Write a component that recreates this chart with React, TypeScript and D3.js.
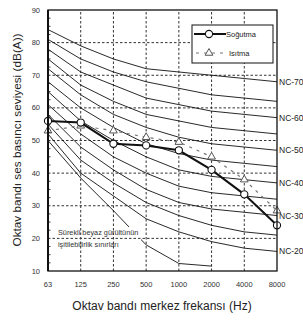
import { useEffect, useRef } from 'react';
import * as d3 from 'd3';

const bands = ['63', '125', '250', '500', '1000', '2000', '4000', '8000'];
const yTicks = [10, 20, 30, 40, 50, 60, 70, 80, 90];

// NC curves, dB per octave band
const nc70 = [84, 79, 75, 72, 71, 70, 69, 68];
const nc65 = [81, 75, 71, 68, 66, 64, 63, 62];
const nc60 = [78, 71, 67, 63, 61, 59, 58, 57];
const nc55 = [75, 67, 62, 58, 56, 54, 53, 52];
const nc50 = [72, 64, 58, 54, 51, 49, 48, 47];
const nc45 = [68, 60, 54, 49, 46, 44, 43, 42];
const nc40 = [65, 56, 50, 45, 41, 39, 38, 37];
const nc35 = [61, 52, 45, 40, 36, 34, 33, 32];
const nc30 = [58, 48, 41, 35, 31, 29, 28, 27];
const nc25 = [55, 44, 37, 31, 27, 24, 22, 21];
const nc20 = [52, 40, 33, 26, 22, 19, 17, 16];

// audibility threshold of continuous white noise (63..2000)
const threshold = [50, 38.5, 28.5, 18, 12.3, 11.5];

const sogutma = [56, 55.5, 49, 48.5, 47, 41, 33.5, 24];
const isitma = [53, 54.5, 53, 51, 49.5, 45, 38, 28.5];

const ncCurves = [
  { name: 'NC-70', values: nc70, label: true },
  { name: 'NC-65', values: nc65, label: false },
  { name: 'NC-60', values: nc60, label: true },
  { name: 'NC-55', values: nc55, label: false },
  { name: 'NC-50', values: nc50, label: true },
  { name: 'NC-45', values: nc45, label: false },
  { name: 'NC-40', values: nc40, label: true },
  { name: 'NC-35', values: nc35, label: false },
  { name: 'NC-30', values: nc30, label: true },
  { name: 'NC-25', values: nc25, label: false },
  { name: 'NC-20', values: nc20, label: true },
];

const FONT = 'Liberation Sans, Arial, sans-serif';

export default function App() {
  const svgRef = useRef<SVGSVGElement>(null);

  useEffect(() => {
    const svg = d3.select(svgRef.current);
    svg.selectAll('*').remove();

    const margin = { top: 10, right: 26, bottom: 49, left: 48 };
    const width = 303;
    const height = 320;

    const x = d3.scalePoint<string>()
      .domain(bands)
      .range([margin.left, width - margin.right]);

    const y = d3.scaleLinear()
      .domain([10, 90])
      .range([height - margin.bottom, margin.top]);

    const line = d3.line<number>()
      .x((d, i) => x(bands[i])!)
      .y(d => y(d));

    const defs = svg.append('defs');
    defs.append('clipPath').attr('id', 'plotclip')
      .append('rect')
      .attr('x', margin.left).attr('y', margin.top)
      .attr('width', width - margin.right - margin.left)
      .attr('height', height - margin.bottom - margin.top);
    const mask = defs.append('mask').attr('id', 'textgap');
    mask.append('rect').attr('x', 0).attr('y', 0).attr('width', width).attr('height', height).attr('fill', 'white');
    mask.append('rect').attr('x', 56).attr('y', 227).attr('width', 85).attr('height', 22).attr('fill', 'black');

    // grid
    const grid = svg.append('g');
    grid.selectAll('line.gx')
      .data(bands.slice(1, -1))
      .join('line')
      .attr('x1', d => x(d)!).attr('x2', d => x(d)!)
      .attr('y1', y(10)).attr('y2', y(90))
      .attr('stroke', '#333').attr('stroke-width', 1)
      .attr('stroke-dasharray', '2.5,2');
    grid.selectAll('line.gy')
      .data(yTicks.slice(1, -1))
      .join('line')
      .attr('x1', x('63')!).attr('x2', x('8000')!)
      .attr('y1', d => y(d)).attr('y2', d => y(d))
      .attr('stroke', '#333').attr('stroke-width', 1)
      .attr('stroke-dasharray', '2.5,2');

    // NC curves
    const curves = svg.append('g').attr('clip-path', 'url(#plotclip)');
    curves.selectAll('path')
      .data(ncCurves)
      .join('path')
      .attr('d', d => line(d.values))
      .attr('fill', 'none')
      .attr('stroke', '#111')
      .attr('stroke-width', 0.9);

    curves.append('path')
      .attr('d', line(threshold))
      .attr('fill', 'none')
      .attr('stroke', '#111')
      .attr('stroke-width', 0.9)
      .attr('mask', 'url(#textgap)');

    svg.selectAll('text.nc')
      .data(ncCurves.filter(d => d.label))
      .join('text')
      .attr('x', width - margin.right + 2)
      .attr('y', d => y(d.values[7]) + 3)
      .attr('font-family', FONT)
      .attr('font-size', 8.5)
      .attr('fill', '#222')
      .text(d => d.name);

    svg.append('text')
      .attr('x', 58).attr('y', 235)
      .attr('font-family', FONT).attr('font-size', 7.3).attr('fill', '#333')
      .text('Sürekli beyaz gürültünün');
    svg.append('text')
      .attr('x', 58).attr('y', 247)
      .attr('font-family', FONT).attr('font-size', 7.3).attr('fill', '#333')
      .text('işitilebilirlik sınırları');

    // Isıtma
    svg.append('path')
      .attr('d', line(isitma))
      .attr('fill', 'none')
      .attr('stroke', '#777')
      .attr('stroke-width', 1.2)
      .attr('stroke-dasharray', '3,5');
    const tri = d3.symbol(d3.symbolTriangle, 26);
    svg.selectAll('path.tri')
      .data(isitma)
      .join('path')
      .attr('transform', (d, i) => `translate(${x(bands[i])},${y(d)})`)
      .attr('d', tri())
      .attr('fill', 'white')
      .attr('stroke', '#555')
      .attr('stroke-width', 1);

    // Soğutma
    svg.append('path')
      .attr('d', line(sogutma))
      .attr('fill', 'none')
      .attr('stroke', '#111')
      .attr('stroke-width', 2);
    svg.selectAll('circle.pt')
      .data(sogutma)
      .join('circle')
      .attr('cx', (d, i) => x(bands[i])!)
      .attr('cy', d => y(d))
      .attr('r', 3.6)
      .attr('fill', 'white')
      .attr('stroke', '#111')
      .attr('stroke-width', 1.1);

    // frame
    svg.append('rect')
      .attr('x', margin.left).attr('y', margin.top)
      .attr('width', width - margin.right - margin.left)
      .attr('height', height - margin.bottom - margin.top)
      .attr('fill', 'none').attr('stroke', '#111').attr('stroke-width', 1.3);
    svg.append('line')
      .attr('x1', margin.left).attr('x2', margin.left)
      .attr('y1', margin.top).attr('y2', height - margin.bottom)
      .attr('stroke', '#111').attr('stroke-width', 2);

    // minor ticks on left axis
    svg.selectAll('line.minor')
      .data(d3.range(10, 90, 2.5).filter(v => v % 10 !== 0))
      .join('line')
      .attr('x1', margin.left).attr('x2', margin.left + 2.5)
      .attr('y1', d => y(d)).attr('y2', d => y(d))
      .attr('stroke', '#111').attr('stroke-width', 0.8);

    // tick labels
    svg.selectAll('text.yt')
      .data(yTicks)
      .join('text')
      .attr('x', margin.left - 8)
      .attr('y', d => y(d) + 2.5)
      .attr('text-anchor', 'end')
      .attr('font-family', FONT).attr('font-size', 7.5).attr('fill', '#333')
      .text(d => d);
    svg.selectAll('text.xt')
      .data(bands)
      .join('text')
      .attr('x', d => x(d)!)
      .attr('y', 287)
      .attr('text-anchor', 'middle')
      .attr('font-family', FONT).attr('font-size', 7.5).attr('fill', '#333')
      .text(d => d);

    // axis titles
    svg.append('text')
      .attr('x', 162).attr('y', 310)
      .attr('text-anchor', 'middle')
      .attr('font-family', FONT).attr('font-size', 12).attr('fill', '#222')
      .text('Oktav bandı merkez frekansı (Hz)');
    svg.append('text')
      .attr('transform', `translate(21,140) rotate(-90)`)
      .attr('text-anchor', 'middle')
      .attr('font-family', FONT).attr('font-size', 11.8).attr('fill', '#222')
      .text('Oktav bandı ses basıncı seviyesi (dB(A))');

    // legend
    const lg = svg.append('g');
    lg.append('rect')
      .attr('x', 192).attr('y', 25).attr('width', 81).attr('height', 38)
      .attr('fill', 'white').attr('stroke', '#111').attr('stroke-width', 1);
    lg.append('line')
      .attr('x1', 194).attr('x2', 226).attr('y1', 34).attr('y2', 34)
      .attr('stroke', '#111').attr('stroke-width', 2);
    lg.append('circle')
      .attr('cx', 209).attr('cy', 34).attr('r', 3.6)
      .attr('fill', 'white').attr('stroke', '#111').attr('stroke-width', 1.1);
    lg.append('text')
      .attr('x', 226).attr('y', 37)
      .attr('font-family', FONT).attr('font-size', 7.5).attr('fill', '#222')
      .text('Soğutma');
    lg.append('line')
      .attr('x1', 196).attr('x2', 226).attr('y1', 53).attr('y2', 53)
      .attr('stroke', '#777').attr('stroke-width', 1.2).attr('stroke-dasharray', '3,5');
    lg.append('path')
      .attr('transform', 'translate(209,53)')
      .attr('d', tri())
      .attr('fill', 'white').attr('stroke', '#555').attr('stroke-width', 1);
    lg.append('text')
      .attr('x', 229).attr('y', 56)
      .attr('font-family', FONT).attr('font-size', 7.5).attr('fill', '#222')
      .text('Isıtma');
  }, []);

  return (
    <svg
      ref={svgRef}
      width={303}
      height={320}
      style={{ position: 'absolute', left: 0, top: 0, background: 'white' }}
    />
  );
}
